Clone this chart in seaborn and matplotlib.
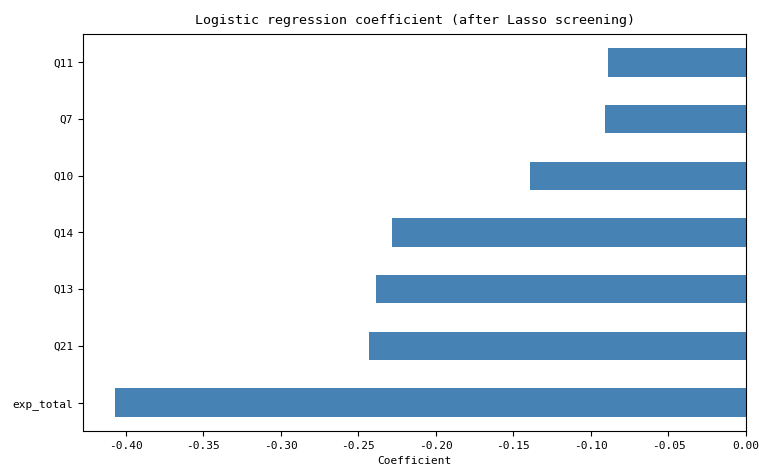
import matplotlib
matplotlib.use('Agg')
import matplotlib.pyplot as plt
import seaborn as sns
import pandas as pd

features = ['Q11', 'Q7', 'Q10', 'Q14', 'Q13', 'Q21', 'exp_total']
coefs = [-0.0888, -0.0907, -0.1390, -0.2283, -0.2383, -0.2432, -0.4071]

plt.rcParams['font.family'] = ['DejaVu Sans Mono', 'DejaVu Sans']

df = pd.DataFrame({'feature': features, 'coef': coefs})

fig, ax = plt.subplots(figsize=(7.59, 4.68), dpi=100)
fig.subplots_adjust(left=0.1094, right=0.9829, top=0.9274, bottom=0.0791)

sns.barplot(data=df, x='coef', y='feature', order=features, color='steelblue',
            saturation=1, width=0.5, ax=ax)

ax.set_xlim(-0.4275, 0.0)
ax.set_ylim(6.5, -0.5)
ax.set_ylabel('')
ax.set_xlabel('Coefficient', fontsize=8, labelpad=4)
ax.set_title('Logistic regression coefficient (after Lasso screening)', fontsize=9.6, pad=7)
ax.tick_params(labelsize=8)
ax.set_xticks([-0.40, -0.35, -0.30, -0.25, -0.20, -0.15, -0.10, -0.05, 0.00])
ax.set_xticklabels([f'{v:.2f}' for v in ax.get_xticks()])

fig.savefig('out.png', dpi=100)
